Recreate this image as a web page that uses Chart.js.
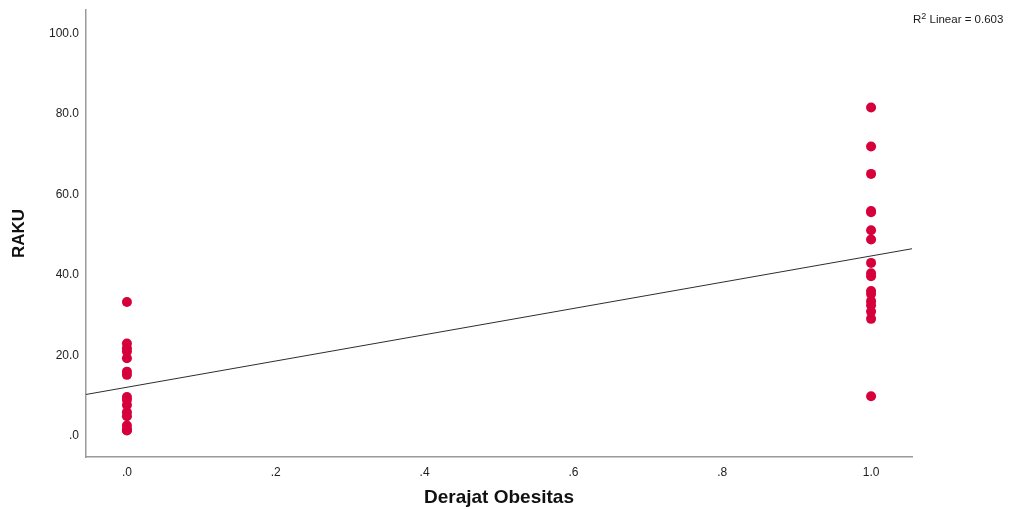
<!DOCTYPE html>
<html>
<head>
<meta charset="utf-8">
<title>RAKU vs Derajat Obesitas</title>
<script src="https://cdn.jsdelivr.net/npm/chart.js@4/dist/chart.umd.min.js"></script>
<style>
  html, body { margin: 0; padding: 0; background: #ffffff; }
  #wrap { position: relative; width: 1017px; height: 509px; }
  #chart { position: absolute; left: 0; top: 0; }
  #r2 {
    position: absolute; left: 913px; top: 13px;
    font-family: "Liberation Sans", Arial, sans-serif; font-size: 11.5px; color: #1a1a1a;
    white-space: nowrap;
  }
  #r2 sup { font-size: 9px; vertical-align: 4px; line-height: 0; }
</style>
</head>
<body>
<div id="wrap">
  <canvas id="chart" width="1017" height="509"></canvas>
  <div id="r2">R<sup>2</sup> Linear = 0.603</div>
</div>
<script>
// Group values: RAKU by obesity degree (0 / 1)
const groupX = [0, 1];
const rakuGroup0 = [33.3, 23.0, 21.8, 21.0, 19.3, 16.0, 15.2, 9.7, 9.0, 7.7, 5.9, 4.9, 2.6, 1.6, 1.5, 1.4];
const rakuGroup1 = [81.6, 71.9, 65.1, 55.9, 55.6, 51.1, 48.8, 43.0, 40.4, 39.7, 36.0, 35.3, 33.5, 32.5, 30.9, 29.1, 9.9];

// Axis ticks and labels
const xTickValues = [0, 0.2, 0.4, 0.6, 0.8, 1.0];
const xTickLabels = ['.0', '.2', '.4', '.6', '.8', '1.0'];
const yTickValues = [0, 20, 40, 60, 80, 100];
const yTickLabels = ['.0', '20.0', '40.0', '60.0', '80.0', '100.0'];
const xRange = [-0.055, 1.055];
const yRange = [-5.2, 105.8];

// Scatter points
const points = [];
rakuGroup0.forEach(v => points.push({ x: groupX[0], y: v }));
rakuGroup1.forEach(v => points.push({ x: groupX[1], y: v }));

// Ordinary least squares fit across all points
const n = points.length;
const mx = points.reduce((s, p) => s + p.x, 0) / n;
const my = points.reduce((s, p) => s + p.y, 0) / n;
let sxy = 0, sxx = 0;
points.forEach(p => { sxy += (p.x - mx) * (p.y - my); sxx += (p.x - mx) * (p.x - mx); });
const slope = sxy / sxx;
const intercept = my - slope * mx;
const fitLine = xRange.map(x => ({ x: x, y: intercept + slope * x }));

const fontFamily = '"Liberation Sans", Arial, sans-serif';

function fixedTicks(values) {
  return function (scale) { scale.ticks = values.map(v => ({ value: v })); };
}

new Chart(document.getElementById('chart'), {
  type: 'scatter',
  data: {
    datasets: [
      {
        type: 'line',
        data: fitLine,
        borderColor: '#2e2e2e',
        borderWidth: 1,
        pointRadius: 0,
        fill: false,
        order: 0
      },
      {
        data: points,
        backgroundColor: '#d6003b',
        borderWidth: 0,
        pointRadius: 5,
        pointHoverRadius: 5,
        order: 1
      }
    ]
  },
  options: {
    responsive: false,
    animation: false,
    events: [],
    layout: { padding: { top: 10, right: 105, left: 0, bottom: 0 } },
    plugins: { legend: { display: false }, tooltip: { enabled: false } },
    scales: {
      x: {
        type: 'linear',
        min: xRange[0], max: xRange[1],
        afterBuildTicks: fixedTicks(xTickValues),
        afterFit: s => { s.height = 52; s.paddingLeft = 0; s.paddingRight = 0; },
        grid: { display: false, drawTicks: false },
        border: { display: true, color: '#9a9a9a', width: 1.5 },
        ticks: {
          padding: 8,
          color: '#222',
          font: { family: fontFamily, size: 12 },
          callback: (v, i) => xTickLabels[i]
        },
        title: {
          display: true,
          text: 'Derajat Obesitas',
          color: '#111',
          font: { family: fontFamily, size: 19, weight: 'bold' },
          padding: { top: 0, bottom: 0 }
        }
      },
      y: {
        type: 'linear',
        min: yRange[0], max: yRange[1],
        afterBuildTicks: fixedTicks(yTickValues),
        afterFit: s => { s.width = 86; s.paddingTop = 0; s.paddingBottom = 0; },
        grid: { display: false, drawTicks: false },
        border: { display: true, color: '#9a9a9a', width: 1.5 },
        ticks: {
          padding: 7,
          color: '#222',
          font: { family: fontFamily, size: 12 },
          callback: (v, i) => yTickLabels[i]
        },
        title: {
          display: true,
          text: 'RAKU',
          color: '#111',
          font: { family: fontFamily, size: 17, weight: 'bold' },
          padding: { top: 9, bottom: 0 }
        }
      }
    }
  }
});
</script>
</body>
</html>
